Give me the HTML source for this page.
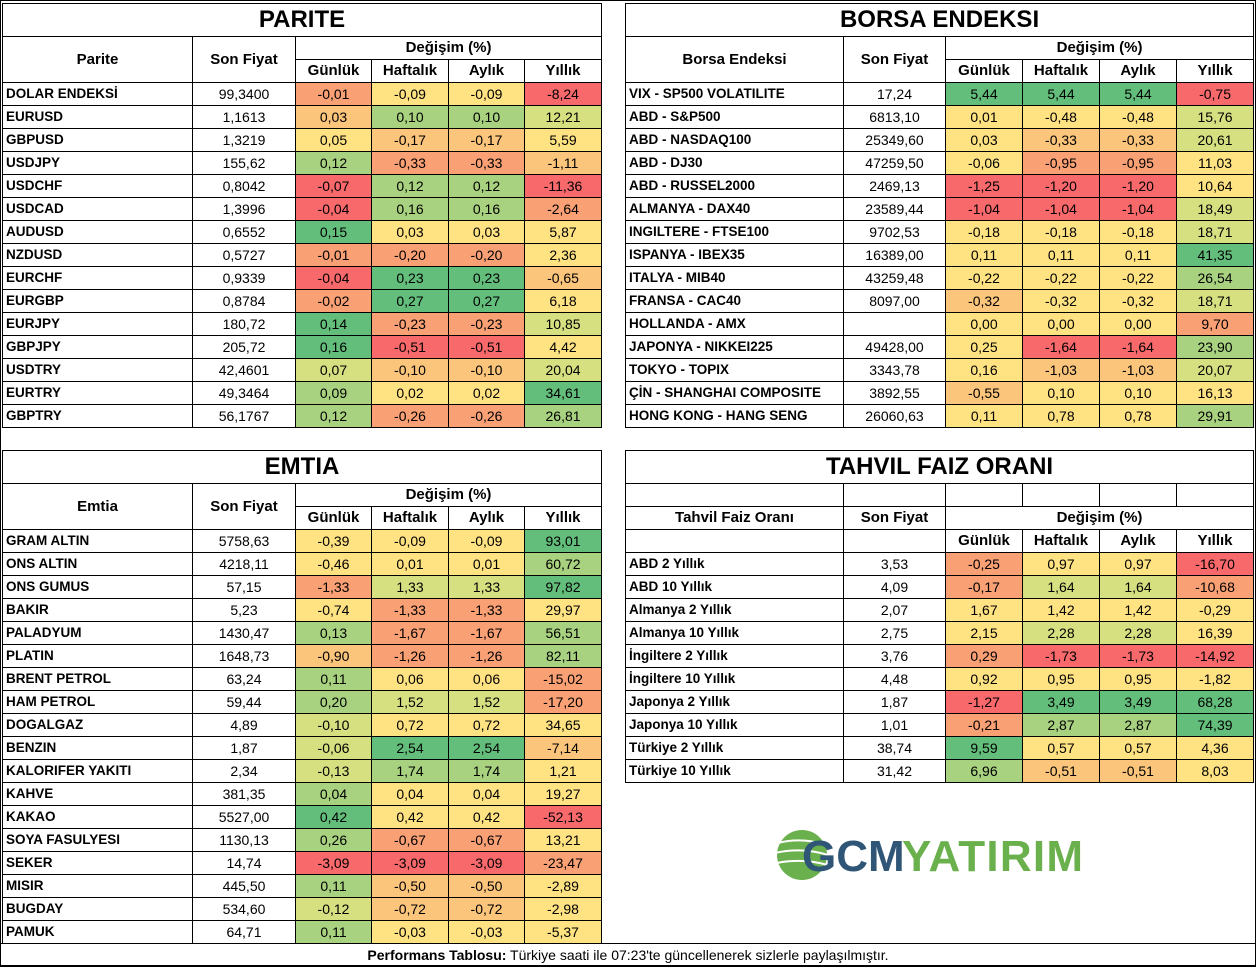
<!DOCTYPE html>
<html><head><meta charset="utf-8"><style>
body{margin:0;width:1256px;height:966px;background:#fff;position:relative;overflow:hidden;font-family:"Liberation Sans",sans-serif;}
#frame{position:absolute;left:0;top:0;width:1254px;height:964px;border:1px solid #000;}
table{position:absolute;border-collapse:collapse;table-layout:fixed;}
td{border:1px solid #000;height:22px;padding:0;font-size:14px;text-align:center;white-space:nowrap;overflow:hidden;line-height:22px;}
td.n{text-align:left;font-weight:bold;padding-left:3px;font-size:13.5px;}
td.t{height:32px;font-size:24px;font-weight:bold;}
td.h{font-weight:bold;font-size:15px;}
.R{background:#f8696b}.O{background:#f9a074}.L{background:#fcc57c}.Y{background:#ffe383}.K{background:#d6e081}.H{background:#a8d27f}.G{background:#63be7b}
#foot{position:absolute;left:0;top:943px;width:1254px;height:22px;border:1px solid #000;text-align:center;font-size:14px;line-height:22px;}
</style></head><body>
<div id="frame"></div>

<table style="left:2px;top:3px;width:600px">
<colgroup><col style="width:190px"><col style="width:103px"><col style="width:76px"><col style="width:77px"><col style="width:76px"><col style="width:77px"></colgroup>
<tr><td class="t" colspan="6">PARITE</td></tr>
<tr><td class="h" rowspan="2">Parite</td><td class="h" rowspan="2">Son Fiyat</td><td class="h" colspan="4">Değişim (%)</td></tr>
<tr><td class="h">Günlük</td><td class="h">Haftalık</td><td class="h">Aylık</td><td class="h">Yıllık</td></tr>
<tr><td class="n">DOLAR ENDEKSİ</td><td>99,3400</td><td class="O">-0,01</td><td class="Y">-0,09</td><td class="Y">-0,09</td><td class="R">-8,24</td></tr>
<tr><td class="n">EURUSD</td><td>1,1613</td><td class="L">0,03</td><td class="H">0,10</td><td class="H">0,10</td><td class="K">12,21</td></tr>
<tr><td class="n">GBPUSD</td><td>1,3219</td><td class="Y">0,05</td><td class="L">-0,17</td><td class="L">-0,17</td><td class="Y">5,59</td></tr>
<tr><td class="n">USDJPY</td><td>155,62</td><td class="H">0,12</td><td class="O">-0,33</td><td class="O">-0,33</td><td class="L">-1,11</td></tr>
<tr><td class="n">USDCHF</td><td>0,8042</td><td class="R">-0,07</td><td class="H">0,12</td><td class="H">0,12</td><td class="R">-11,36</td></tr>
<tr><td class="n">USDCAD</td><td>1,3996</td><td class="R">-0,04</td><td class="H">0,16</td><td class="H">0,16</td><td class="O">-2,64</td></tr>
<tr><td class="n">AUDUSD</td><td>0,6552</td><td class="G">0,15</td><td class="Y">0,03</td><td class="Y">0,03</td><td class="Y">5,87</td></tr>
<tr><td class="n">NZDUSD</td><td>0,5727</td><td class="O">-0,01</td><td class="O">-0,20</td><td class="O">-0,20</td><td class="Y">2,36</td></tr>
<tr><td class="n">EURCHF</td><td>0,9339</td><td class="R">-0,04</td><td class="G">0,23</td><td class="G">0,23</td><td class="L">-0,65</td></tr>
<tr><td class="n">EURGBP</td><td>0,8784</td><td class="O">-0,02</td><td class="G">0,27</td><td class="G">0,27</td><td class="Y">6,18</td></tr>
<tr><td class="n">EURJPY</td><td>180,72</td><td class="G">0,14</td><td class="O">-0,23</td><td class="O">-0,23</td><td class="K">10,85</td></tr>
<tr><td class="n">GBPJPY</td><td>205,72</td><td class="G">0,16</td><td class="R">-0,51</td><td class="R">-0,51</td><td class="Y">4,42</td></tr>
<tr><td class="n">USDTRY</td><td>42,4601</td><td class="K">0,07</td><td class="L">-0,10</td><td class="L">-0,10</td><td class="K">20,04</td></tr>
<tr><td class="n">EURTRY</td><td>49,3464</td><td class="H">0,09</td><td class="Y">0,02</td><td class="Y">0,02</td><td class="G">34,61</td></tr>
<tr><td class="n">GBPTRY</td><td>56,1767</td><td class="H">0,12</td><td class="O">-0,26</td><td class="O">-0,26</td><td class="H">26,81</td></tr>
</table>

<table style="left:625px;top:3px;width:629px">
<colgroup><col style="width:218px"><col style="width:102px"><col style="width:77px"><col style="width:77px"><col style="width:77px"><col style="width:77px"></colgroup>
<tr><td class="t" colspan="6">BORSA ENDEKSI</td></tr>
<tr><td class="h" rowspan="2">Borsa Endeksi</td><td class="h" rowspan="2">Son Fiyat</td><td class="h" colspan="4">Değişim (%)</td></tr>
<tr><td class="h">Günlük</td><td class="h">Haftalık</td><td class="h">Aylık</td><td class="h">Yıllık</td></tr>
<tr><td class="n">VIX  - SP500 VOLATILITE</td><td>17,24</td><td class="G">5,44</td><td class="G">5,44</td><td class="G">5,44</td><td class="R">-0,75</td></tr>
<tr><td class="n">ABD - S&amp;P500</td><td>6813,10</td><td class="Y">0,01</td><td class="Y">-0,48</td><td class="Y">-0,48</td><td class="K">15,76</td></tr>
<tr><td class="n">ABD - NASDAQ100</td><td>25349,60</td><td class="Y">0,03</td><td class="L">-0,33</td><td class="L">-0,33</td><td class="K">20,61</td></tr>
<tr><td class="n">ABD - DJ30</td><td>47259,50</td><td class="Y">-0,06</td><td class="O">-0,95</td><td class="O">-0,95</td><td class="Y">11,03</td></tr>
<tr><td class="n">ABD - RUSSEL2000</td><td>2469,13</td><td class="R">-1,25</td><td class="R">-1,20</td><td class="R">-1,20</td><td class="Y">10,64</td></tr>
<tr><td class="n">ALMANYA - DAX40</td><td>23589,44</td><td class="R">-1,04</td><td class="R">-1,04</td><td class="R">-1,04</td><td class="K">18,49</td></tr>
<tr><td class="n">INGILTERE - FTSE100</td><td>9702,53</td><td class="Y">-0,18</td><td class="Y">-0,18</td><td class="Y">-0,18</td><td class="K">18,71</td></tr>
<tr><td class="n">ISPANYA - IBEX35</td><td>16389,00</td><td class="Y">0,11</td><td class="Y">0,11</td><td class="Y">0,11</td><td class="G">41,35</td></tr>
<tr><td class="n">ITALYA - MIB40</td><td>43259,48</td><td class="Y">-0,22</td><td class="Y">-0,22</td><td class="Y">-0,22</td><td class="H">26,54</td></tr>
<tr><td class="n">FRANSA - CAC40</td><td>8097,00</td><td class="L">-0,32</td><td class="Y">-0,32</td><td class="Y">-0,32</td><td class="K">18,71</td></tr>
<tr><td class="n">HOLLANDA - AMX</td><td></td><td class="Y">0,00</td><td class="Y">0,00</td><td class="Y">0,00</td><td class="O">9,70</td></tr>
<tr><td class="n">JAPONYA - NIKKEI225</td><td>49428,00</td><td class="Y">0,25</td><td class="R">-1,64</td><td class="R">-1,64</td><td class="H">23,90</td></tr>
<tr><td class="n">TOKYO - TOPIX</td><td>3343,78</td><td class="Y">0,16</td><td class="L">-1,03</td><td class="L">-1,03</td><td class="K">20,07</td></tr>
<tr><td class="n">ÇİN - SHANGHAI COMPOSITE</td><td>3892,55</td><td class="L">-0,55</td><td class="Y">0,10</td><td class="Y">0,10</td><td class="Y">16,13</td></tr>
<tr><td class="n">HONG KONG - HANG SENG</td><td>26060,63</td><td class="Y">0,11</td><td class="Y">0,78</td><td class="Y">0,78</td><td class="H">29,91</td></tr>
</table>

<table style="left:2px;top:450px;width:600px">
<colgroup><col style="width:190px"><col style="width:103px"><col style="width:76px"><col style="width:77px"><col style="width:76px"><col style="width:77px"></colgroup>
<tr><td class="t" colspan="6">EMTIA</td></tr>
<tr><td class="h" rowspan="2">Emtia</td><td class="h" rowspan="2">Son Fiyat</td><td class="h" colspan="4">Değişim (%)</td></tr>
<tr><td class="h">Günlük</td><td class="h">Haftalık</td><td class="h">Aylık</td><td class="h">Yıllık</td></tr>
<tr><td class="n">GRAM ALTIN</td><td>5758,63</td><td class="Y">-0,39</td><td class="Y">-0,09</td><td class="Y">-0,09</td><td class="G">93,01</td></tr>
<tr><td class="n">ONS ALTIN</td><td>4218,11</td><td class="Y">-0,46</td><td class="Y">0,01</td><td class="Y">0,01</td><td class="H">60,72</td></tr>
<tr><td class="n">ONS GUMUS</td><td>57,15</td><td class="O">-1,33</td><td class="K">1,33</td><td class="K">1,33</td><td class="G">97,82</td></tr>
<tr><td class="n">BAKIR</td><td>5,23</td><td class="Y">-0,74</td><td class="O">-1,33</td><td class="O">-1,33</td><td class="Y">29,97</td></tr>
<tr><td class="n">PALADYUM</td><td>1430,47</td><td class="H">0,13</td><td class="O">-1,67</td><td class="O">-1,67</td><td class="H">56,51</td></tr>
<tr><td class="n">PLATIN</td><td>1648,73</td><td class="L">-0,90</td><td class="O">-1,26</td><td class="O">-1,26</td><td class="H">82,11</td></tr>
<tr><td class="n">BRENT PETROL</td><td>63,24</td><td class="H">0,11</td><td class="Y">0,06</td><td class="Y">0,06</td><td class="O">-15,02</td></tr>
<tr><td class="n">HAM PETROL</td><td>59,44</td><td class="H">0,20</td><td class="K">1,52</td><td class="K">1,52</td><td class="O">-17,20</td></tr>
<tr><td class="n">DOGALGAZ</td><td>4,89</td><td class="K">-0,10</td><td class="Y">0,72</td><td class="Y">0,72</td><td class="Y">34,65</td></tr>
<tr><td class="n">BENZIN</td><td>1,87</td><td class="K">-0,06</td><td class="G">2,54</td><td class="G">2,54</td><td class="L">-7,14</td></tr>
<tr><td class="n">KALORIFER YAKITI</td><td>2,34</td><td class="K">-0,13</td><td class="H">1,74</td><td class="H">1,74</td><td class="Y">1,21</td></tr>
<tr><td class="n">KAHVE</td><td>381,35</td><td class="H">0,04</td><td class="Y">0,04</td><td class="Y">0,04</td><td class="Y">19,27</td></tr>
<tr><td class="n">KAKAO</td><td>5527,00</td><td class="G">0,42</td><td class="Y">0,42</td><td class="Y">0,42</td><td class="R">-52,13</td></tr>
<tr><td class="n">SOYA FASULYESI</td><td>1130,13</td><td class="H">0,26</td><td class="O">-0,67</td><td class="O">-0,67</td><td class="Y">13,21</td></tr>
<tr><td class="n">SEKER</td><td>14,74</td><td class="R">-3,09</td><td class="R">-3,09</td><td class="R">-3,09</td><td class="O">-23,47</td></tr>
<tr><td class="n">MISIR</td><td>445,50</td><td class="H">0,11</td><td class="L">-0,50</td><td class="L">-0,50</td><td class="Y">-2,89</td></tr>
<tr><td class="n">BUGDAY</td><td>534,60</td><td class="K">-0,12</td><td class="L">-0,72</td><td class="L">-0,72</td><td class="Y">-2,98</td></tr>
<tr><td class="n">PAMUK</td><td>64,71</td><td class="H">0,11</td><td class="Y">-0,03</td><td class="Y">-0,03</td><td class="Y">-5,37</td></tr>
</table>

<table style="left:625px;top:450px;width:629px">
<colgroup><col style="width:218px"><col style="width:102px"><col style="width:77px"><col style="width:77px"><col style="width:77px"><col style="width:77px"></colgroup>
<tr><td class="t" colspan="6">TAHVIL FAIZ ORANI</td></tr>
<tr><td></td><td></td><td></td><td></td><td></td><td></td></tr>
<tr><td class="h">Tahvil Faiz Oranı</td><td class="h">Son Fiyat</td><td class="h" colspan="4">Değişim (%)</td></tr>
<tr><td></td><td></td><td class="h">Günlük</td><td class="h">Haftalık</td><td class="h">Aylık</td><td class="h">Yıllık</td></tr>
<tr><td class="n">ABD 2 Yıllık</td><td>3,53</td><td class="O">-0,25</td><td class="Y">0,97</td><td class="Y">0,97</td><td class="R">-16,70</td></tr>
<tr><td class="n">ABD 10 Yıllık</td><td>4,09</td><td class="O">-0,17</td><td class="K">1,64</td><td class="K">1,64</td><td class="O">-10,68</td></tr>
<tr><td class="n">Almanya 2 Yıllık</td><td>2,07</td><td class="Y">1,67</td><td class="Y">1,42</td><td class="Y">1,42</td><td class="Y">-0,29</td></tr>
<tr><td class="n">Almanya 10 Yıllık</td><td>2,75</td><td class="Y">2,15</td><td class="K">2,28</td><td class="K">2,28</td><td class="Y">16,39</td></tr>
<tr><td class="n">İngiltere 2 Yıllık</td><td>3,76</td><td class="O">0,29</td><td class="R">-1,73</td><td class="R">-1,73</td><td class="R">-14,92</td></tr>
<tr><td class="n">İngiltere 10 Yıllık</td><td>4,48</td><td class="Y">0,92</td><td class="Y">0,95</td><td class="Y">0,95</td><td class="Y">-1,82</td></tr>
<tr><td class="n">Japonya 2 Yıllık</td><td>1,87</td><td class="R">-1,27</td><td class="G">3,49</td><td class="G">3,49</td><td class="G">68,28</td></tr>
<tr><td class="n">Japonya 10 Yıllık</td><td>1,01</td><td class="O">-0,21</td><td class="H">2,87</td><td class="H">2,87</td><td class="G">74,39</td></tr>
<tr><td class="n">Türkiye 2 Yıllık</td><td>38,74</td><td class="G">9,59</td><td class="Y">0,57</td><td class="Y">0,57</td><td class="Y">4,36</td></tr>
<tr><td class="n">Türkiye 10 Yıllık</td><td>31,42</td><td class="H">6,96</td><td class="L">-0,51</td><td class="L">-0,51</td><td class="Y">8,03</td></tr>
</table>

<svg style="position:absolute;left:770px;top:825px" width="330" height="60">
<circle cx="32" cy="30" r="25" fill="#6ab04c"/>
<g stroke="#fff" stroke-width="2" fill="none"><path d="M8 18 Q32 12 56 20"/><path d="M5 28 Q32 22 58 30"/><path d="M7 38 Q32 33 58 40"/></g>
<text x="32" y="46" font-family="Liberation Sans,sans-serif" font-weight="bold" font-size="44" fill="#2f5676">GCM</text>
<text x="132" y="46" font-family="Liberation Sans,sans-serif" font-weight="bold" font-size="44" fill="#6ab04c" textLength="181">YATIRIM</text>
</svg>

<div id="foot"><b>Performans Tablosu:</b> Türkiye saati ile 07:23'te güncellenerek sizlerle paylaşılmıştır.</div>
</body></html>
